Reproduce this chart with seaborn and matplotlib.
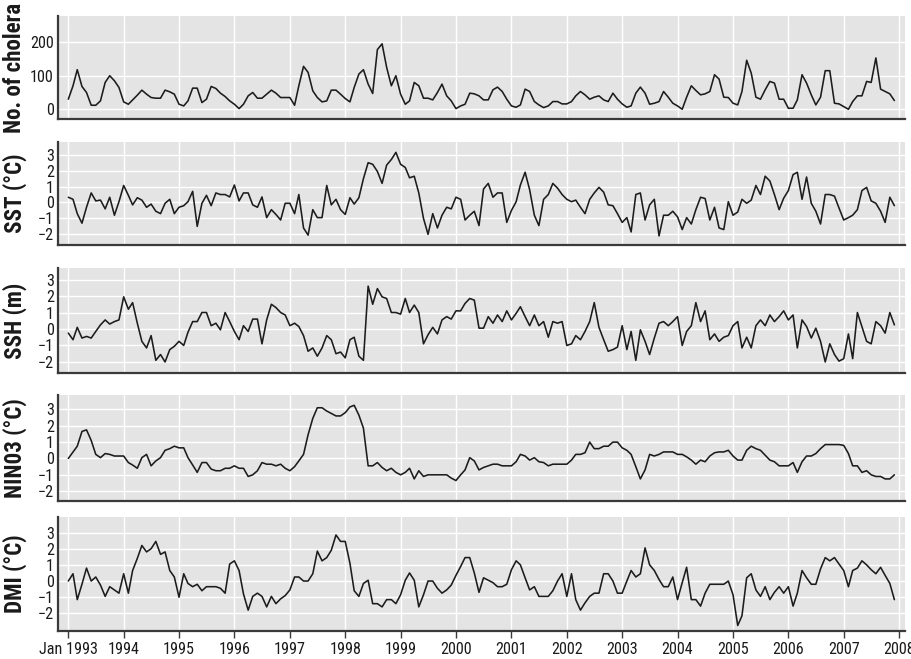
import os
import matplotlib
matplotlib.use("Agg")
import matplotlib.pyplot as plt
from matplotlib import font_manager
from matplotlib.font_manager import FontProperties
import pandas as pd
import seaborn as sns

# ---------------------------------------------------------------- data
months = pd.date_range("1993-01-01", periods=180, freq="MS")
year_ticks = pd.date_range("1993-01-01", "2008-01-01", freq="YS")
year_labels = ["Jan 1993"] + [str(y) for y in range(1994, 2009)]

cholera = [
    30, 70, 118, 68, 50, 12, 12, 25, 80, 100, 85, 65,
    22, 15, 28, 42, 57, 45, 35, 33, 33, 57, 52, 45,
    15, 10, 25, 63, 63, 20, 30, 68, 62, 48, 38, 25,
    15, 2, 15, 40, 50, 33, 33, 45, 57, 48, 35, 35,
    35, 12, 70, 128, 110, 55, 35, 22, 25, 57, 57, 45,
    32, 22, 65, 105, 118, 75, 47, 178, 195, 125, 70, 100,
    45, 15, 25, 80, 70, 33, 33, 28, 50, 75, 40, 25,
    2, 10, 15, 48, 46, 40, 28, 28, 58, 66, 53, 30,
    10, 6, 13, 60, 53, 23, 13, 5, 10, 23, 23, 16,
    16, 23, 40, 53, 43, 30, 36, 40, 28, 23, 48, 30,
    16, 6, 10, 48, 66, 48, 15, 18, 23, 53, 36, 18,
    10, 0, 36, 70, 56, 43, 46, 53, 103, 90, 36, 35,
    18, 13, 53, 146, 108, 36, 30, 58, 83, 78, 30, 30,
    3, 3, 28, 103, 78, 43, 13, 36, 115, 115, 18, 16,
    8, 0, 23, 40, 40, 83, 80, 153, 60, 53, 46, 26,
]

sst = [
    0.33, 0.2, -0.7, -1.3, -0.3, 0.6, 0.1, 0.15, -0.4, 0.33, -0.8, 0.05,
    1.07, 0.45, -0.15, 0.3, 0.15, -0.3, -0.1, -0.55, -0.7, -0.05, 0.2, -0.7,
    -0.3, -0.2, 0.05, 0.7, -1.5, -0.05, 0.45, -0.2, 0.6, 0.5, 0.5, 0.35,
    1.1, 0.1, 0.6, 0.6, -0.15, -0.3, 0.35, -0.95, -0.45, -0.75, -1.1, -0.05,
    -0.05, -0.7, 0.5, -1.6, -2.05, -0.45, -0.95, -0.95, 1.07, -0.15, 0.2, -0.45,
    -0.75, 0.3, -0.1, 0.3, 1.5, 2.5, 2.4, 1.95, 1.2, 2.35, 2.7, 3.15,
    2.4, 2.2, 1.55, 1.65, 0.6, -1.0, -2.0, -0.7, -1.6, -0.8, -0.3, -0.4,
    0.33, 0.2, -1.1, -0.8, -0.55, -1.45, 0.85, 1.2, 0.33, 0.6, 0.6, -1.25,
    -0.5, 0.05, 1.1, 1.9, 0.8, -0.8, -1.45, 0.2, 0.5, 1.2, 0.9, 0.5,
    0.2, 0.05, 0.15, -0.3, -0.7, 0.2, 0.6, 0.95, 0.65, -0.15, -0.2, -0.7,
    -1.25, -0.95, -1.85, 0.5, 0.6, -1.1, -0.15, 0.2, -2.1, -0.8, -0.8, -0.55,
    -0.9, -1.7, -0.95, -1.35, -0.45, 0.33, 0.25, -1.1, -0.3, -1.6, -1.7, 0.05,
    -0.8, -0.6, 0.2, -0.05, 0.15, 1.07, 0.5, 1.65, 1.35, 0.5, -0.45, 0.27,
    0.75, 1.75, 1.9, 0.2, 1.6, -0.05, -0.55, -1.35, 0.5, 0.5, 0.4, -0.35,
    -1.1, -0.95, -0.8, -0.45, 0.75, 0.95, 0.1, -0.05, -0.55, -1.25, 0.33, -0.2,
]

ssh = [
    -0.25, -0.65, 0.1, -0.55, -0.45, -0.55, -0.15, 0.25, 0.55, 0.3, 0.45, 0.55,
    1.95, 1.2, 1.6, 0.35, -0.75, -1.15, -0.4, -1.9, -1.55, -2.0, -1.25, -1.05,
    -0.75, -1.0, -0.2, 0.45, 0.45, 1.0, 1.0, 0.2, 0.35, -0.05, 1.0, 0.45,
    -0.15, -0.65, 0.2, -0.15, 0.6, 0.6, -0.9, 0.55, 1.5, 1.3, 1.0, 0.85,
    0.2, 0.35, 0.15, -0.4, -1.35, -1.15, -1.65, -1.15, -0.4, -0.65, -1.5, -1.4,
    -1.75, -0.65, -0.5, -1.65, -1.9, 2.6, 1.5, 2.45, 1.95, 1.85, 1.0, 1.0,
    0.9, 1.85, 1.0, 1.45, 1.0, -0.9, -0.35, 0.1, -0.3, 0.55, 0.75, 0.6,
    1.1, 1.1, 1.55, 1.85, 1.75, 0.05, 0.05, 0.75, 0.35, 0.85, 0.45, 1.1,
    0.55, 0.95, 1.35, 0.75, 0.2, 0.85, 0.2, 0.45, -0.5, 0.45, 0.35, 0.45,
    -1.0, -0.9, -0.4, -0.65, -0.15, 0.45, 1.6, 0.1, -0.65, -1.35, -1.25, -1.1,
    0.2, -1.25, -0.15, -1.9, -0.05, -0.75, -1.55, -0.55, 0.35, 0.45, 0.2, 0.45,
    0.75, -1.0, -0.15, 0.2, 1.6, 0.45, 1.1, -0.65, -0.3, -0.75, -0.5, -0.4,
    0.2, 0.45, -1.15, -0.5, -1.15, 0.2, 0.55, 0.2, 0.85, 0.45, 0.75, 1.1,
    0.55, 0.85, -1.15, 0.55, 0.15, -0.55, 0.05, -0.75, -2.0, -0.9, -1.55, -1.95,
    -1.8, -0.3, -1.8, 1.0, 0.15, -0.75, -0.9, 0.45, 0.2, -0.25, 1.0, 0.25,
]

nino3 = [
    0.0, 0.4, 0.75, 1.65, 1.75, 1.1, 0.25, 0.05, 0.3, 0.25, 0.15, 0.15,
    0.15, -0.25, -0.4, -0.6, 0.05, 0.25, -0.45, -0.15, 0.05, 0.5, 0.6, 0.75,
    0.65, 0.65, 0.05, -0.4, -0.85, -0.25, -0.25, -0.65, -0.75, -0.75, -0.6, -0.6,
    -0.45, -0.6, -0.6, -1.1, -1.0, -0.75, -0.25, -0.35, -0.35, -0.45, -0.35, -0.6,
    -0.75, -0.5, -0.15, 0.25, 1.45, 2.45, 3.1, 3.1, 2.9, 2.75, 2.6, 2.6,
    2.8, 3.15, 3.25, 2.65, 1.85, -0.45, -0.45, -0.25, -0.55, -0.75, -0.6, -0.85,
    -1.0, -0.85, -0.6, -1.25, -0.75, -1.1, -1.0, -1.0, -1.0, -1.0, -1.0, -1.2,
    -1.35, -1.0, -0.7, 0.05, -0.15, -0.7, -0.55, -0.45, -0.35, -0.35, -0.45, -0.45,
    -0.45, -0.2, 0.25, 0.15, -0.1, 0.05, -0.2, -0.25, -0.45, -0.35, -0.35, -0.35,
    -0.35, -0.1, 0.25, 0.25, 0.35, 1.0, 0.6, 0.6, 0.75, 0.75, 1.0, 1.0,
    0.65, 0.5, 0.25, -0.5, -1.25, -0.7, 0.25, 0.15, 0.25, 0.4, 0.4, 0.4,
    0.25, 0.25, 0.1, -0.1, -0.35, -0.1, -0.2, 0.15, 0.35, 0.4, 0.4, 0.5,
    0.15, -0.1, -0.1, 0.5, 0.75, 0.6, 0.5, 0.2, -0.1, -0.2, -0.45, -0.45,
    -0.45, -0.25, -0.85, -0.2, 0.15, 0.15, 0.3, 0.6, 0.85, 0.85, 0.85, 0.85,
    0.8, 0.3, -0.45, -0.45, -0.85, -0.75, -1.0, -1.1, -1.1, -1.25, -1.25, -1.0,
]

dmi = [
    0.0, 0.45, -1.15, -0.2, 0.8, 0.0, 0.25, -0.25, -0.95, -0.35, -0.55, -0.75,
    0.45, -0.75, 0.65, 1.4, 2.2, 1.8, 2.0, 2.45, 1.65, 1.8, 0.65, 0.25,
    -1.0, 0.45, -0.15, -0.35, -0.2, -0.6, -0.35, -0.35, -0.35, -0.45, -0.75, 1.05,
    1.25, 0.65, -0.8, -1.8, -0.95, -0.75, -0.95, -1.6, -0.95, -1.4, -1.1, -0.9,
    -0.55, 0.25, 0.25, 0.0, 0.0, 0.45, 1.85, 1.25, 1.45, 1.9, 2.85, 2.45,
    2.45, 1.1, -0.6, -0.95, -0.15, 0.05, -1.4, -1.4, -1.6, -1.15, -1.15, -1.4,
    -0.85, 0.05, 0.5, 0.05, -1.6, -0.85, 0.0, 0.0, -0.45, -0.75, -0.55, -0.25,
    0.35, 0.9, 1.45, 1.45, 0.5, -0.7, 0.2, 0.05, -0.1, -0.35, -0.35, -0.2,
    0.7, 1.25, 1.0, 0.2, -0.55, -0.35, -0.95, -0.95, -0.95, -0.6, 0.0, 0.45,
    -0.95, 0.45, -1.15, -1.8, -1.35, -0.95, -0.75, -0.75, 0.45, 0.45, 0.0, -0.75,
    -0.75, 0.0, 0.65, 0.25, 0.45, 2.05, 1.0, 0.65, 0.1, -0.35, -0.35, 0.25,
    -1.15, -0.1, 0.85, -1.15, -1.15, -1.55, -0.75, -0.2, -0.2, -0.2, -0.2, 0.0,
    -0.85, -2.75, -2.15, 0.2, 0.45, -0.55, -0.95, -0.35, -1.15, -0.7, -0.35, -0.75,
    -0.35, -1.55, -0.75, 0.65, 0.2, -0.2, -0.2, 0.75, 1.45, 1.25, 1.45, 1.05,
    0.65, -0.35, 0.65, 0.8, 1.25, 1.0, 0.7, 0.45, 0.85, 0.35, -0.15, -1.15,
]

panel_labels = ["No. of cholera", "SST (°C)", "SSH (m)", "NIN03 (°C)", "DMI (°C)"]
panel_series = [cholera, sst, ssh, nino3, dmi]
panel_yticks = [[0, 100, 200]] + [[-2, -1, 0, 1, 2, 3]] * 4
panel_ylims = [(-29, 278), (-2.67, 3.8), (-2.67, 3.7), (-2.6, 3.88), (-3.09, 3.96)]
# panel extents in pixels: (top, bottom)
panel_rows = [(16, 119), (142, 245), (268, 373), (395, 501), (517, 631)]


# ---------------------------------------------------------------- fonts
def find_font(keys, bold):
    """Return the path of the first installed face whose file name matches."""
    files = [f.fname for f in font_manager.fontManager.ttflist]
    for key in keys:
        for path in files:
            base = os.path.basename(path).lower().replace(" ", "").replace("_", "")
            if key not in base:
                continue
            if "italic" in base or "oblique" in base:
                continue
            is_bold = "bold" in base
            if any(w in base for w in ("semibold", "extrabold", "semicondensedbold",
                                       "light", "thin", "medium", "black")):
                continue
            if is_bold == bold:
                return path
    return None


narrow_keys = ["liberationsansnarrow", "robotocondensed", "notosans-condensed",
               "opensanscondensed", "opensans-condensed", "dejavusanscondensed",
               "liberationsans-", "arimo"]
reg_path = find_font(narrow_keys, bold=False)
bold_path = find_font(narrow_keys, bold=True)
tick_fp = FontProperties(fname=reg_path) if reg_path else FontProperties(family="DejaVu Sans")
label_fp = (FontProperties(fname=bold_path) if bold_path
            else FontProperties(family="DejaVu Sans", weight="bold"))

# ---------------------------------------------------------------- style
sns.set_theme(style="darkgrid", rc={
    "axes.facecolor": "#E4E4E5",
    "grid.color": "white",
    "grid.linewidth": 1.0,
    "axes.edgecolor": "#3a3a3a",
})
plt.rcParams["font.family"] = ["DejaVu Sans"]
plt.rcParams["axes.unicode_minus"] = True

W, H = 911, 659
fig = plt.figure(figsize=(W / 100, H / 100), dpi=100)
fig.patch.set_facecolor("white")
renderer = fig.canvas.get_renderer()


def size_for_width(text, fp, target_px, max_size):
    probe = fig.text(0, 0, text, fontproperties=fp, fontsize=10)
    width = probe.get_window_extent(renderer).width
    probe.remove()
    return min(max_size, 10 * target_px / width)


tick_size = size_for_width("Jan 1993", tick_fp, 59, 12)
label_size = size_for_width("No. of cholera", label_fp, 130, 17.5)

left_px, right_px = 58, 905
xmin = pd.Timestamp("1992-10-25")
xmax = pd.Timestamp("2008-02-09")

for i, (label, values, yt, yl, (top, bot)) in enumerate(
        zip(panel_labels, panel_series, panel_yticks, panel_ylims, panel_rows)):
    ax = fig.add_axes([left_px / W, 1 - bot / H, (right_px - left_px) / W, (bot - top) / H])
    df = pd.DataFrame({"date": months, "value": values})
    sns.lineplot(data=df, x="date", y="value", ax=ax, color="#1c1c1c", linewidth=1.15)
    ax.set_xlim(xmin, xmax)
    ax.set_ylim(*yl)
    ax.set_yticks(yt)
    ax.set_yticklabels([f"{v:d}".replace("-", "\u2212") for v in yt],
                       fontproperties=tick_fp, fontsize=tick_size)
    ax.set_xticks(year_ticks)
    ax.grid(True, which="major", color="white", linewidth=1.0)
    ax.set_xlabel("")
    ax.set_ylabel("")
    for side in ("top", "right"):
        ax.spines[side].set_visible(False)
    for side in ("left", "bottom"):
        ax.spines[side].set_visible(True)
        ax.spines[side].set_color("#3a3a3a")
        ax.spines[side].set_linewidth(1.6)
    ax.tick_params(axis="y", length=0, pad=3, labelcolor="#1a1a1a")
    if i == len(panel_labels) - 1:
        ax.set_xticklabels(year_labels, fontproperties=tick_fp, fontsize=tick_size)
        ax.tick_params(axis="x", length=5, width=1.0, color="#3a3a3a",
                       direction="out", pad=3, labelcolor="#1a1a1a", bottom=True)
    else:
        ax.tick_params(axis="x", length=0, labelbottom=False)
    fig.text(15 / W, 1 - ((top + bot) / 2) / H, label, rotation=90,
             ha="center", va="center", fontproperties=label_fp, fontsize=label_size,
             color="#1a1a1a")

fig.savefig("out.png", dpi=100, facecolor="white")
